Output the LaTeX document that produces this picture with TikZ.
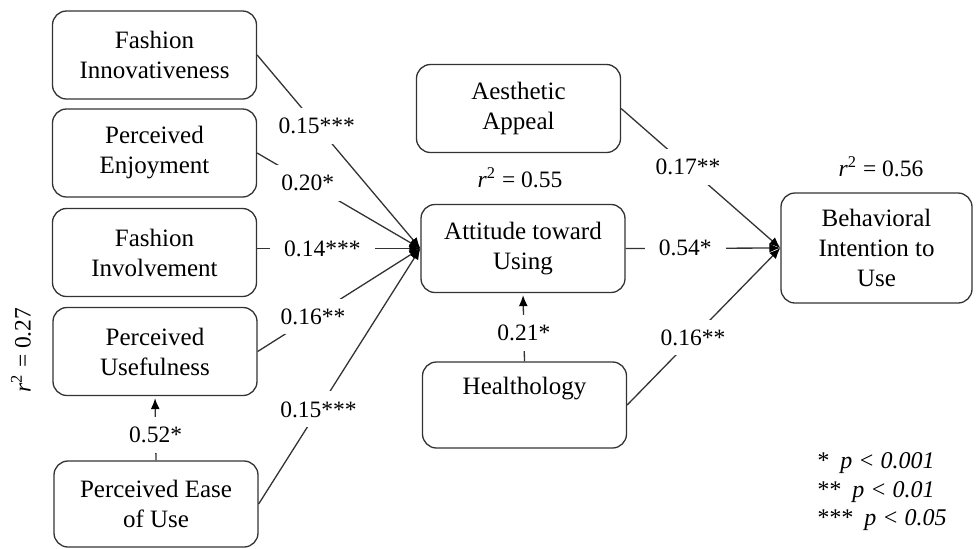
\documentclass[tikz,border=0pt]{standalone}
\usepackage{fontspec}
\setmainfont{Liberation Serif}
\usetikzlibrary{arrows.meta}

\begin{document}
\begin{tikzpicture}[x=0.5pt, y=-0.5pt, line width=0.65pt]

% ---- Sizes and styles ------------------------------------------------------
\def\BW{102pt}  % box width
\def\BH{44pt}   % box height

\tikzset{
  box/.style={draw=black!80, rounded corners=7pt, align=center,
              minimum width=\BW, minimum height=\BH, inner sep=2pt,
              font=\fontsize{12.5}{15}\selectfont},
  coef/.style={fill=white, inner xsep=7pt, inner ysep=5pt,
               font=\fontsize{11.75}{14}\selectfont},
  link/.style={draw=black!80,
               -{Latex[length=5.5pt, width=4.5pt, color=black]}},
  rsq/.style={font=\fontsize{11.75}{14}\selectfont},
  sig/.style={align=left, font=\fontsize{12}{14.25}\selectfont\itshape},
}

\useasboundingbox (0,0) rectangle (976,548);

% ---- Antecedents (left column) ---------------------------------------------
\node[box] (FI)   at (154.5,55)   {Fashion\\Innovativeness};
\node[box] (PE)   at (154.5,153)  {Perceived\\Enjoyment};
\node[box] (FInv) at (154.5,252.5) {Fashion\\Involvement};
\node[box] (PU)   at (155,351.5)  {Perceived\\Usefulness};
\node[box, minimum height=43pt] (PEOU) at (156,504) {Perceived Ease\\of Use};

% ---- Middle column ---------------------------------------------------------
\node[box] (AA)  at (518.5,108.5) {Aesthetic\\Appeal};
\node[box] (Att) at (523,248.5)   {Attitude toward\\Using};
\node[box, minimum height=43pt] (HL) at (524.5,405) {Healthology\\\strut};

% ---- Outcome ---------------------------------------------------------------
\node[box, minimum width=95.5pt, minimum height=55pt] (BI) at (876.5,248)
  {Behavioral\\Intention to\\Use};

% ---- Paths into attitude ---------------------------------------------------
\draw[link] (FI.east) -- node[coef, pos=0.365] {0.15***} (Att.west);
\draw[link] (PE.east) -- node[coef, pos=0.31] {0.20*} (Att.west);
\draw[link] (FInv.east |- Att.west) -- node[coef, pos=0.40] {0.14***} (Att.west);
\draw[link] (PU.east) -- node[coef, pos=0.34] {0.16**} (Att.west);
\draw[link] (PEOU.east) -- node[coef, pos=0.37] {0.15***} (Att.west);
\draw[link, shorten >=1pt] (PEOU.north) -- node[coef, pos=0.40] {0.52*} (PU.south);
\draw[link, shorten >=1pt] (HL.north) -- node[coef, pos=0.42] {0.21*} (Att.south);

% ---- Paths into intention --------------------------------------------------
\draw[link] (AA.east) -- node[coef, pos=0.42] {0.17**} (BI.west);
\draw[link] (Att.east) -- node[coef, pos=0.385] {0.54*} (BI.west);
\draw[link] (HL.east) -- node[coef, pos=0.43] {0.16**} (BI.west);

% ---- Explained variance ----------------------------------------------------
\node[rsq] (r55) at (520,178) {\textit{r}\textsuperscript{2} = 0.55};
\node[rsq] (r56) at (881,167) {\textit{r}\textsuperscript{2} = 0.56};
\node[rsq, rotate=90] (r27) at (21,350) {\textit{r}\textsuperscript{2} = 0.27};

% ---- Significance key ------------------------------------------------------
\node[sig, anchor=west] (key) at (809,492)
  {*\hspace{0.5em}p < 0.001\\**\hspace{0.5em}p < 0.01\\***\hspace{0.5em}p < 0.05};

\end{tikzpicture}
\end{document}
